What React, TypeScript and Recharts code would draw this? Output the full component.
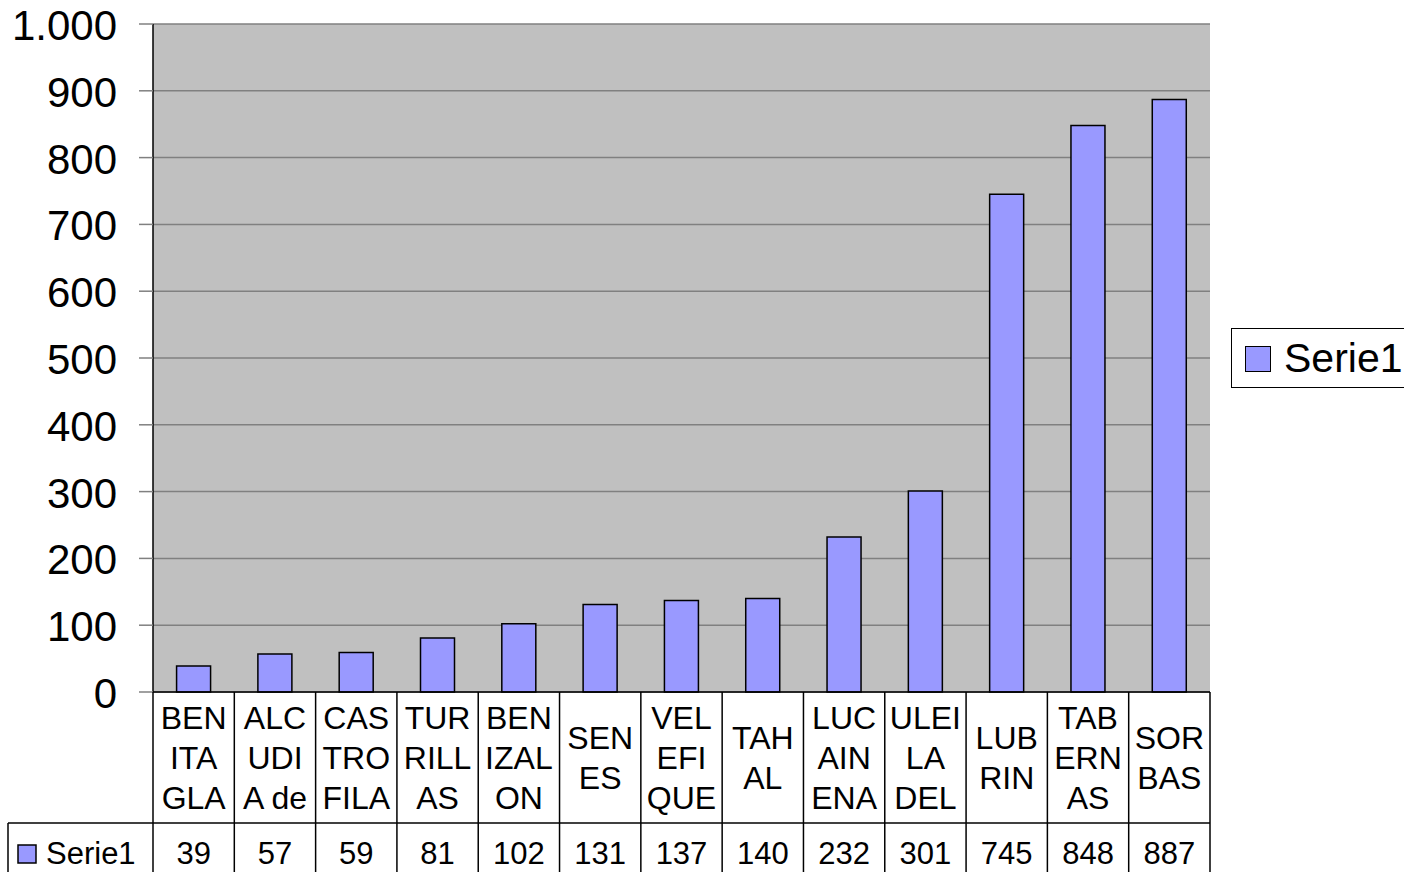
import { Bar, BarChart, CartesianGrid, XAxis, YAxis } from 'recharts';

const categories = ['BENITAGLA', 'ALCUDIA de', 'CASTROFILA', 'TURRILLAS', 'BENIZALON', 'SENES', 'VELEFIQUE', 'TAHAL', 'LUCAINENA', 'ULEILADEL', 'LUBRIN', 'TABERNAS', 'SORBAS'];
const labelLines = [
  ['BEN', 'ITA', 'GLA'],
  ['ALC', 'UDI', 'A de'],
  ['CAS', 'TRO', 'FILA'],
  ['TUR', 'RILL', 'AS'],
  ['BEN', 'IZAL', 'ON'],
  ['SEN', 'ES'],
  ['VEL', 'EFI', 'QUE'],
  ['TAH', 'AL'],
  ['LUC', 'AIN', 'ENA'],
  ['ULEI', 'LA', 'DEL'],
  ['LUB', 'RIN'],
  ['TAB', 'ERN', 'AS'],
  ['SOR', 'BAS'],
];
const serie1 = [39, 57, 59, 81, 102, 131, 137, 140, 232, 301, 745, 848, 887];
const yTicks = [0, 100, 200, 300, 400, 500, 600, 700, 800, 900, 1000];

const seriesName = 'Serie1';
const barColor = '#9999ff';
const font = '"Liberation Sans", Arial, sans-serif';

const data = categories.map((c, i) => ({ name: c, lines: labelLines[i], value: serie1[i] }));

const fmt = (v: number) => (v >= 1000 ? `${Math.floor(v / 1000)}.${String(v % 1000).padStart(3, '0')}` : String(v));

// data table drawn under the x axis: wrapped category names + value row
const TableTick = (props: any) => {
  const { x, y, payload, index } = props;
  const half = payload.offset;
  const row = data[index];
  const lines = row.lines;
  const start = lines.length === 3 ? 37 : 57;
  const left = x - half;
  const right = x + half;
  const rowY = y + 131;
  return (
    <g>
      <line x1={left} y1={y} x2={left} y2={y + 200} stroke="#000" strokeWidth={1.5} />
      {index === data.length - 1 && <line x1={right} y1={y} x2={right} y2={y + 200} stroke="#000" strokeWidth={1.5} />}
      <line x1={index === 0 ? 8 : left} y1={rowY} x2={right} y2={rowY} stroke="#000" strokeWidth={1.5} />
      {lines.map((l: string, k: number) => (
        <text key={k} x={x} y={y + start + k * 40} textAnchor="middle" fontSize={32} fontFamily={font} fill="#000">
          {l}
        </text>
      ))}
      <text x={x} y={y + 172} textAnchor="middle" fontSize={31} fontFamily={font} fill="#000">
        {row.value}
      </text>
      {index === 0 && (
        <g>
          <line x1={8} y1={rowY} x2={8} y2={y + 200} stroke="#000" strokeWidth={1.5} />
          <rect x={18} y={y + 153} width={18} height={18} fill={barColor} stroke="#000" strokeWidth={1.5} />
          <text x={46} y={y + 172} fontSize={31} fontFamily={font} fill="#000">
            {seriesName}
          </text>
        </g>
      )}
    </g>
  );
};

const App = () => {
  return (
    <div style={{ position: 'absolute', left: 0, top: 0, width: 1404, height: 872, overflow: 'hidden', background: '#fff', fontFamily: font }}>
      <BarChart width={1404} height={872} data={data} margin={{ top: 24, right: 194, bottom: 0, left: 8 }} barCategoryGap="29%">
        <CartesianGrid vertical={false} fill="#c0c0c0" stroke="#808080" strokeWidth={1.5} />
        <XAxis
          dataKey="name"
          height={180}
          tickLine={false}
          tickSize={0}
          tickMargin={0}
          interval={0}
          axisLine={{ stroke: '#000', strokeWidth: 1.5 }}
          tick={<TableTick />}
        />
        <YAxis
          domain={[0, 1000]}
          ticks={yTicks}
          width={145}
          tickSize={14}
          tickMargin={22}
          tickFormatter={fmt}
          interval={0}
          axisLine={{ stroke: '#000', strokeWidth: 1.5 }}
          tickLine={{ stroke: '#808080', strokeWidth: 1.5 }}
          tick={{ fontSize: 42, fill: '#000', fontFamily: font, dy: 1 }}
        />
        <YAxis yAxisId="r" orientation="right" width={0} tick={false} tickLine={false} axisLine={{ stroke: '#808080', strokeWidth: 1.5 }} />
        <Bar dataKey="value" name={seriesName} fill={barColor} stroke="#000" strokeWidth={1.5} isAnimationActive={false} />
      </BarChart>
      <div
        style={{
          position: 'absolute',
          left: 1231,
          top: 328,
          width: 200,
          height: 60,
          border: '1px solid #000',
          background: '#fff',
          boxSizing: 'border-box',
        }}
      >
        <div style={{ position: 'absolute', left: 13, top: 17, width: 24, height: 24, background: barColor, border: '1.5px solid #000' }} />
        <div style={{ position: 'absolute', left: 52, top: 4, fontSize: 41, lineHeight: '50px', color: '#000', whiteSpace: 'nowrap' }}>{seriesName}</div>
      </div>
    </div>
  );
};

export default App;
